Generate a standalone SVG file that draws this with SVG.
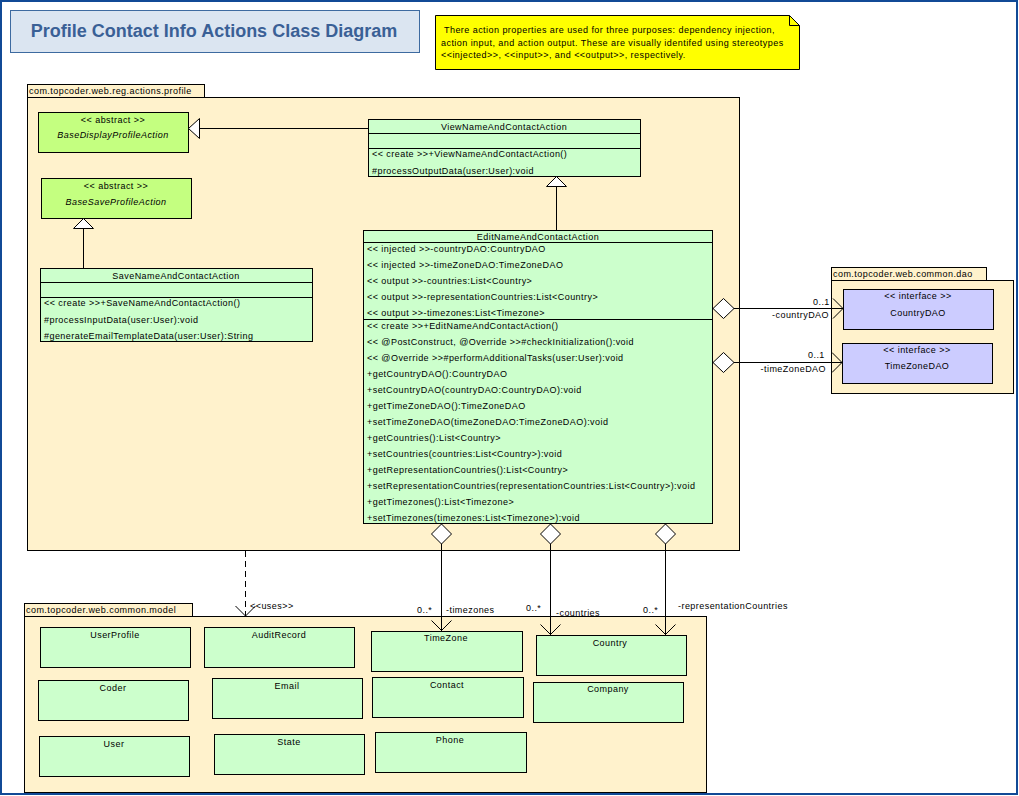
<svg xmlns="http://www.w3.org/2000/svg" width="1019" height="796" viewBox="0 0 1019 796">
<style>
text{font-family:"Liberation Sans",Arial,sans-serif;font-size:9px;fill:#000;letter-spacing:0.45px}
.pkg{fill:#fff2cc;stroke:#000;stroke-width:1}
.cls{fill:#ccffcc;stroke:#000;stroke-width:1}
.abs{fill:#c4ff80;stroke:#000;stroke-width:1}
.itf{fill:#ccccff;stroke:#000;stroke-width:1}
.ln{stroke:#000;stroke-width:1;fill:none}
.wh{fill:#fff;stroke:#000;stroke-width:1}
.c{text-anchor:middle}
.r{text-anchor:end}
.i{font-style:italic}
</style>
<rect x="0" y="0" width="1019" height="796" fill="#fff"/>
<rect x="1" y="1" width="1016" height="793" fill="none" stroke="#114a96" stroke-width="2"/>
<g id="title">
<rect x="10.5" y="10.5" width="409" height="42" fill="#dbe5f1" stroke="#3d6aa0" stroke-width="1"/>
<text x="214" y="37" class="c" style="font-size:18px;font-weight:bold;fill:#3a6096;letter-spacing:0">Profile Contact Info Actions Class Diagram</text>
</g>
<g id="note">
<path d="M435.5,15.5 H789.5 L799.5,25.5 V69.5 H435.5 Z" fill="#ffff00" stroke="#000"/>
<path d="M789.5,15.5 V25.5 H799.5" class="ln"/>
<text x="444" y="33">There action properties are used for three purposes: dependency injection,</text>
<text x="441" y="46">action input, and action output. These are visually identifed using stereotypes</text>
<text x="441" y="58">&lt;&lt;injected&gt;&gt;, &lt;&lt;input&gt;&gt;, and &lt;&lt;output&gt;&gt;, respectively.</text>
</g>
<g id="pkg-profile">
<rect x="27.5" y="84.5" width="177" height="13" class="pkg"/>
<rect x="27.5" y="97.5" width="712" height="453" class="pkg"/>
<text x="29" y="94">com.topcoder.web.reg.actions.profile</text>
</g>
<g id="pkg-dao">
<rect x="831.5" y="267.5" width="155" height="13" class="pkg"/>
<rect x="831.5" y="280.5" width="182" height="113" class="pkg"/>
<text x="833" y="277">com.topcoder.web.common.dao</text>
</g>
<g id="pkg-model">
<rect x="24.5" y="603.5" width="168" height="13" class="pkg"/>
<rect x="24.5" y="616.5" width="682" height="176" class="pkg"/>
<text x="26" y="613">com.topcoder.web.common.model</text>
</g>
<g id="BaseDisplayProfileAction">
<rect x="38.5" y="112.5" width="150" height="40" class="abs"/>
<text x="113" y="123" class="c">&lt;&lt; abstract &gt;&gt;</text>
<text x="113" y="138" class="c i">BaseDisplayProfileAction</text>
</g>
<g id="BaseSaveProfileAction">
<rect x="41.5" y="178.5" width="150" height="40" class="abs"/>
<text x="116" y="189" class="c">&lt;&lt; abstract &gt;&gt;</text>
<text x="116" y="205" class="c i">BaseSaveProfileAction</text>
</g>
<g id="ViewNameAndContactAction">
<rect x="368.5" y="119.5" width="272" height="57" class="cls"/>
<path d="M368.5,133.5 H640.5 M368.5,148.5 H640.5" class="ln"/>
<text x="504" y="130" class="c">ViewNameAndContactAction</text>
<text x="372" y="157">&lt;&lt; create &gt;&gt;+ViewNameAndContactAction()</text>
<text x="372" y="174">#processOutputData(user:User):void</text>
</g>
<g id="SaveNameAndContactAction">
<rect x="40.5" y="268.5" width="272" height="73" class="cls"/>
<path d="M40.5,282.5 H312.5 M40.5,297.5 H312.5" class="ln"/>
<text x="176" y="279" class="c">SaveNameAndContactAction</text>
<text x="44" y="306">&lt;&lt; create &gt;&gt;+SaveNameAndContactAction()</text>
<text x="44" y="323">#processInputData(user:User):void</text>
<text x="44" y="339">#generateEmailTemplateData(user:User):String</text>
</g>
<g id="EditNameAndContactAction">
<rect x="363.5" y="230.5" width="349" height="293" class="cls"/>
<path d="M363.5,242.5 H712.5 M363.5,319.5 H712.5" class="ln"/>
<text x="538" y="240" class="c">EditNameAndContactAction</text>
<text x="367" y="252">&lt;&lt; injected &gt;&gt;-countryDAO:CountryDAO</text>
<text x="367" y="268">&lt;&lt; injected &gt;&gt;-timeZoneDAO:TimeZoneDAO</text>
<text x="367" y="284">&lt;&lt; output &gt;&gt;-countries:List&lt;Country&gt;</text>
<text x="367" y="300">&lt;&lt; output &gt;&gt;-representationCountries:List&lt;Country&gt;</text>
<text x="367" y="316">&lt;&lt; output &gt;&gt;-timezones:List&lt;Timezone&gt;</text>
<text x="367" y="329">&lt;&lt; create &gt;&gt;+EditNameAndContactAction()</text>
<text x="367" y="345">&lt;&lt; @PostConstruct, @Override &gt;&gt;#checkInitialization():void</text>
<text x="367" y="361">&lt;&lt; @Override &gt;&gt;#performAdditionalTasks(user:User):void</text>
<text x="367" y="377">+getCountryDAO():CountryDAO</text>
<text x="367" y="393">+setCountryDAO(countryDAO:CountryDAO):void</text>
<text x="367" y="409">+getTimeZoneDAO():TimeZoneDAO</text>
<text x="367" y="425">+setTimeZoneDAO(timeZoneDAO:TimeZoneDAO):void</text>
<text x="367" y="441">+getCountries():List&lt;Country&gt;</text>
<text x="367" y="457">+setCountries(countries:List&lt;Country&gt;):void</text>
<text x="367" y="473">+getRepresentationCountries():List&lt;Country&gt;</text>
<text x="367" y="489">+setRepresentationCountries(representationCountries:List&lt;Country&gt;):void</text>
<text x="367" y="505">+getTimezones():List&lt;Timezone&gt;</text>
<text x="367" y="521">+setTimezones(timezones:List&lt;Timezone&gt;):void</text>
</g>
<g id="CountryDAO">
<rect x="843.5" y="289.5" width="150" height="40" class="itf"/>
<text x="918" y="299" class="c">&lt;&lt; interface &gt;&gt;</text>
<text x="918" y="316" class="c">CountryDAO</text>
</g>
<g id="TimeZoneDAO">
<rect x="842.5" y="343.5" width="150" height="40" class="itf"/>
<text x="917" y="353" class="c">&lt;&lt; interface &gt;&gt;</text>
<text x="917" y="369" class="c">TimeZoneDAO</text>
</g>
<g id="UserProfile"><rect x="40.5" y="627.5" width="150" height="40" class="cls"/><text x="115" y="638" class="c">UserProfile</text></g>
<g id="AuditRecord"><rect x="204.5" y="627.5" width="150" height="40" class="cls"/><text x="279" y="638" class="c">AuditRecord</text></g>
<g id="Coder"><rect x="38.5" y="680.5" width="150" height="40" class="cls"/><text x="113" y="691" class="c">Coder</text></g>
<g id="Email"><rect x="212.5" y="678.5" width="150" height="40" class="cls"/><text x="287" y="689" class="c">Email</text></g>
<g id="User"><rect x="39.5" y="736.5" width="150" height="40" class="cls"/><text x="114" y="747" class="c">User</text></g>
<g id="State"><rect x="214.5" y="734.5" width="150" height="40" class="cls"/><text x="289" y="745" class="c">State</text></g>
<g id="TimeZone"><rect x="371.5" y="631.5" width="151" height="40" class="cls"/><text x="446" y="641" class="c">TimeZone</text></g>
<g id="Country"><rect x="536.5" y="635.5" width="150" height="40" class="cls"/><text x="610" y="646" class="c">Country</text></g>
<g id="Contact"><rect x="372.5" y="677.5" width="151" height="40" class="cls"/><text x="447" y="688" class="c">Contact</text></g>
<g id="Company"><rect x="533.5" y="682.5" width="150" height="40" class="cls"/><text x="608" y="692" class="c">Company</text></g>
<g id="Phone"><rect x="375.5" y="732.5" width="151" height="40" class="cls"/><text x="450" y="743" class="c">Phone</text></g>
<g id="connectors">
<path d="M199,128.5 H368" class="ln"/>
<path d="M188.5,128.5 L199.5,118.5 V138.5 Z" class="wh"/>
<path d="M556.5,186 V230" class="ln"/>
<path d="M556.5,176.5 L566.5,186.5 H546.5 Z" class="wh"/>
<path d="M83.5,228 V268" class="ln"/>
<path d="M83.5,218.5 L93.5,228.5 H73.5 Z" class="wh"/>
<path d="M734,308.5 H843" class="ln"/>
<path d="M713,308.5 L723.5,298.5 L734,308.5 L723.5,318.5 Z" class="wh"/>
<path d="M833,298.5 L843,308.5 L833,318.5" class="ln"/>
<path d="M734,362.5 H842" class="ln"/>
<path d="M713,362.5 L723.5,352.5 L734,362.5 L723.5,372.5 Z" class="wh"/>
<path d="M832,352.5 L842,362.5 L832,372.5" class="ln"/>
<path d="M441.5,544 V631" class="ln"/>
<path d="M441.5,524 L451.5,534 L441.5,544 L431.5,534 Z" class="wh"/>
<path d="M431.5,620.5 L441.5,630.5 L451.5,620.5" class="ln"/>
<path d="M550.5,544 V635" class="ln"/>
<path d="M550.5,524 L560.5,534 L550.5,544 L540.5,534 Z" class="wh"/>
<path d="M540.5,624.5 L550.5,634.5 L560.5,624.5" class="ln"/>
<path d="M665.5,544 V635" class="ln"/>
<path d="M665.5,524 L675.5,534 L665.5,544 L655.5,534 Z" class="wh"/>
<path d="M655.5,624.5 L665.5,634.5 L675.5,624.5" class="ln"/>
<path d="M245.5,551 V616" class="ln" stroke-dasharray="6,4"/>
<path d="M235.5,606 L245.5,616 L255.5,606" class="ln"/>
<text x="813" y="305">0..1</text>
<text x="829" y="318" class="r">-countryDAO</text>
<text x="808" y="358">0..1</text>
<text x="826" y="372" class="r">-timeZoneDAO</text>
<text x="417" y="613">0..*</text>
<text x="446" y="613">-timezones</text>
<text x="526" y="611">0..*</text>
<text x="556" y="616">-countries</text>
<text x="643" y="613">0..*</text>
<text x="678" y="609">-representationCountries</text>
<text x="250" y="609">&lt;&lt;uses&gt;&gt;</text>
</g>
</svg>
